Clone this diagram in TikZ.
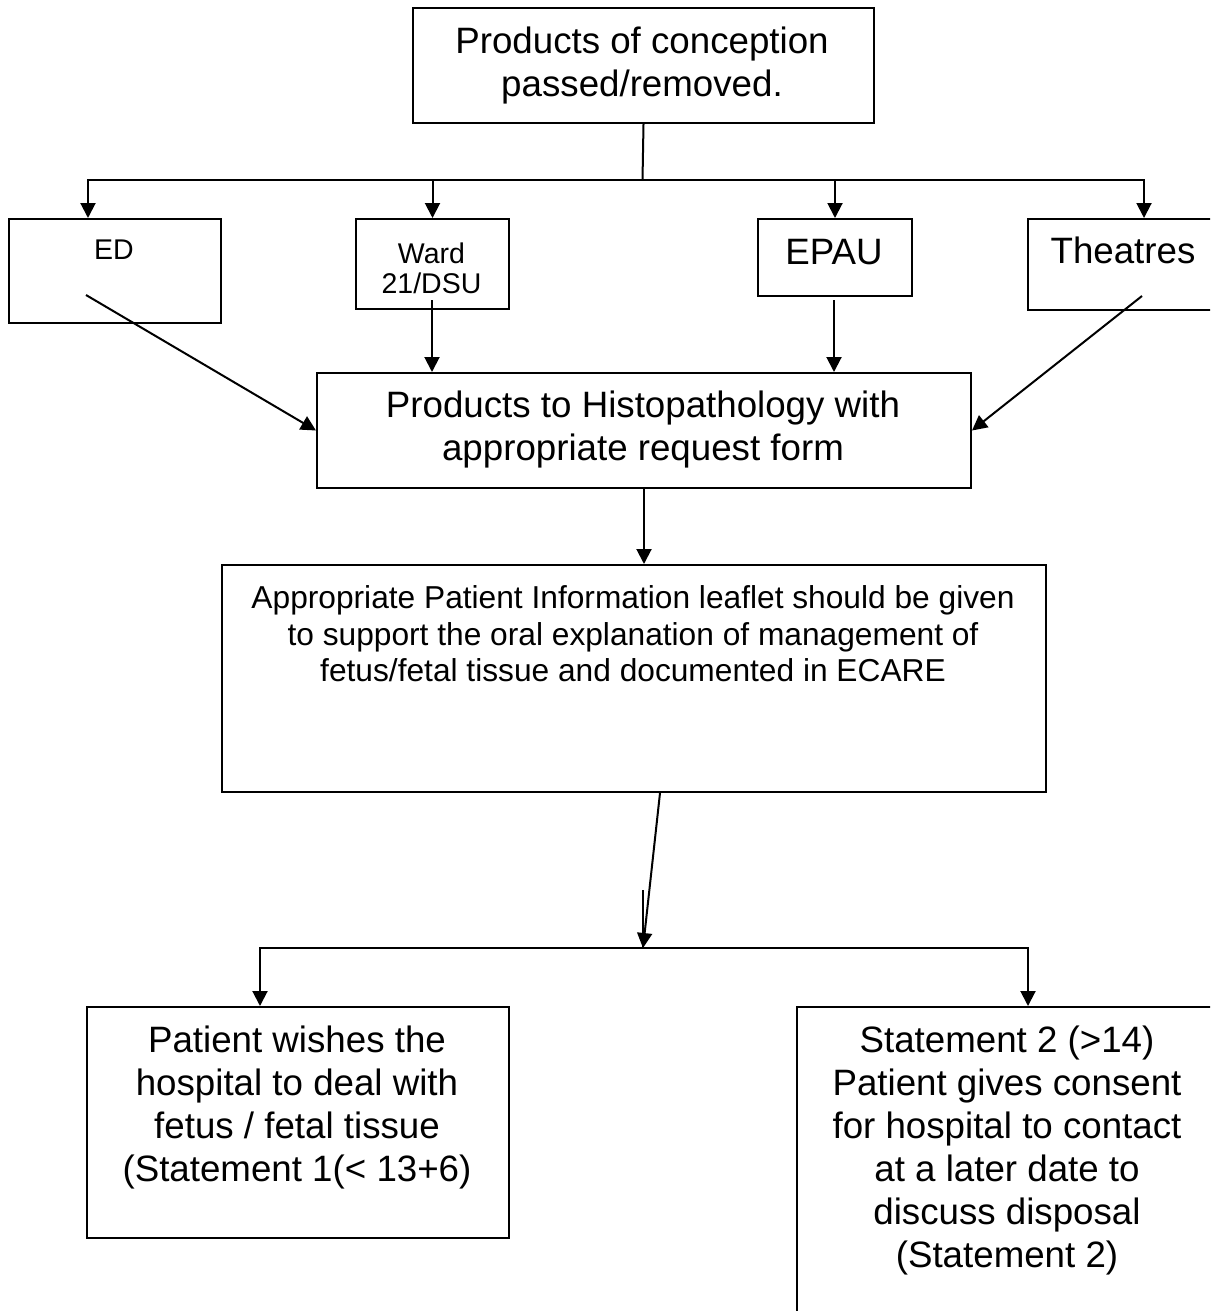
\documentclass[tikz,border=0pt]{standalone}
\usepackage{fontspec}
\setmainfont{Liberation Sans}
\usetikzlibrary{arrows.meta,positioning}

\begin{document}
\begin{tikzpicture}[x=1pt, y=-1pt, line width=2pt,
      box/.style={draw, anchor=north west, inner sep=0pt},
      bigtxt/.style={font=\fontsize{36.7}{43}\selectfont, align=center, inner sep=0pt},
      midtxt/.style={font=\fontsize{31.7}{36.5}\selectfont, align=center, inner sep=0pt},
      smalltxt/.style={font=\fontsize{28.5}{30}\selectfont, align=center, inner sep=0pt},
      arr/.style={-{Triangle[length=15pt,width=15pt]}}]
    \useasboundingbox (0,0) rectangle (1210,1311);
    \clip (0,0) rectangle (1210,1311);

    \node[box, minimum width=461pt, minimum height=115pt] (root) at (412,7) {};
    \node[box, minimum width=212pt, minimum height=104pt] (ed) at (8,218) {};
    \node[box, minimum width=153pt, minimum height=90pt] (ward) at (355,218) {};
    \node[box, minimum width=154pt, minimum height=77pt] (epau) at (757,218) {};
    \node[box, minimum width=192pt, minimum height=91pt] (theatres) at (1027,218) {};
    \node[box, minimum width=654pt, minimum height=115pt] (hist) at (316,372) {};
    \node[box, minimum width=824pt, minimum height=227pt] (leaflet) at (221,564) {};
    \node[box, minimum width=422pt, minimum height=231pt] (hospital) at (86,1006) {};
    \node[box, minimum width=422pt, minimum height=400pt] (consent) at (796,1006) {};

    \node[bigtxt] (roottxt) at (642,66) {Products of conception\\passed/removed.};
    \node[smalltxt] (edtxt) at (114,250) {ED};
    \node[smalltxt] (wardtxt) at (431.5,268) {Ward\\21/DSU};
    \node[bigtxt] (epautxt) at (834,252) {EPAU};
    \node[bigtxt] (theatrestxt) at (1123,250) {Theatres};
    \node[bigtxt] (histtxt) at (643,430) {Products to Histopathology with\\appropriate request form};
    \node[midtxt] (leaflettxt) at (633,634) {Appropriate Patient Information leaflet should be given\\
      to support the oral explanation of management of\\fetus/fetal tissue and documented in ECARE};
    \node[bigtxt] (hospitaltxt) at (297,1107) {Patient wishes the\\hospital to deal with\\
      fetus / fetal tissue\\(Statement 1(< 13+6)};
    \node[bigtxt] (consenttxt) at (1007,1150) {Statement 2 (>14)\\Patient gives consent\\
      for hospital to contact\\at a later date to\\discuss disposal\\(Statement 2)};

    \coordinate (fork) at (642.5,180);
    \draw (root.south) -- (fork);
    \draw[arr] (fork) -| ([xshift=-27pt]ed.north);
    \draw[arr] (fork) -| (ward.north);
    \draw[arr] (fork) -| (epau.north);
    \draw[arr] (fork) -| ([xshift=20pt]theatres.north);

    \coordinate (edout) at (86,295);
    \coordinate (wardout) at (432,300);
    \coordinate (epauout) at (834,300);
    \coordinate (theatresout) at (1142,296);
    \draw[arr] (edout) -- (hist.west);
    \draw[arr] (wardout) -- (wardout |- hist.north);
    \draw[arr] (epauout) -- (epauout |- hist.north);
    \draw[arr] (theatresout) -- (hist.east);

    \draw[arr] (hist.south) -- (hist.south |- leaflet.north);
    \coordinate (join) at (643,948);
    \coordinate (stub) at (643,890);
    \draw[arr] ([xshift=26pt]leaflet.south) -- (join);
    \draw (stub) -- (join);
    \draw[arr] (join) -| ([xshift=-38pt]hospital.north);
    \draw[arr] (join) -| ([xshift=20pt]consent.north);
  \end{tikzpicture}
\end{document}
